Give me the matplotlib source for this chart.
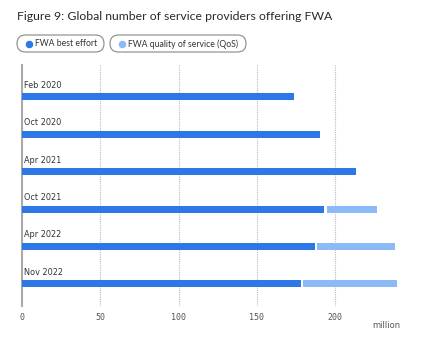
import matplotlib
matplotlib.use("Agg")
import matplotlib.pyplot as plt
from matplotlib.patches import FancyBboxPatch

# Datos (millones)
periods = ["Feb 2020", "Oct 2020", "Apr 2021", "Oct 2021", "Apr 2022", "Nov 2022"]
best_effort = [174, 190, 213, 193, 187, 178]
qos = [0, 0, 0, 32, 50, 60]
xticks = [0, 50, 100, 150, 200]

c_best = "#2d77e6"
c_qos = "#8cbaf7"
W, H = 445, 341


def px(x, y):
    # pixel (desde arriba-izquierda) -> coordenadas de figura
    return x / W, 1 - y / H


fig = plt.figure(figsize=(W / 100, H / 100), dpi=100)
fig.patch.set_facecolor("white")

# Ejes: izquierda 22px, arriba 65px, abajo 306px
l, t = px(22, 65)
_, b = px(0, 306)
r, _ = px(413.5, 0)
ax = fig.add_axes([l, b, r - l, t - b])
ax.set_xlim(0, 250)
ax.set_ylim(5.59, -0.85)

ypos = list(range(len(periods)))
ax.barh(ypos, best_effort, height=0.19, color=c_best, edgecolor="none", zorder=3)
ax.barh(ypos, qos, left=[v + 1.5 for v in best_effort], height=0.19,
        color=c_qos, edgecolor="none", zorder=3)

for y, lab in zip(ypos, periods):
    ax.text(1, y - 0.31, lab, fontsize=5.9, color="#333333",
            family="DejaVu Sans", ha="left", va="center")

for s in ["top", "right", "bottom"]:
    ax.spines[s].set_visible(False)
ax.spines["left"].set_color("#aaaaaa")
ax.spines["left"].set_linewidth(1.5)
ax.set_yticks([])
ax.set_xticks(xticks)
ax.set_xticklabels([str(v) for v in xticks], family="DejaVu Sans Mono",
                   fontsize=6, color="#555555")
ax.tick_params(axis="x", length=0, pad=5)
for v in xticks[1:]:
    ax.axvline(v, color="#bbbbbb", linewidth=0.8, linestyle=(0, (1, 1)), zorder=1)

fig.text(*px(386, 325), "million", fontsize=6, color="#555555",
         family="DejaVu Sans", ha="center", va="center")

# Título
fig.text(*px(17, 17), "Figure 9: Global number of service providers offering FWA",
         fontsize=8.8, color="#2a2a2a", family="Lato", ha="left", va="center")

# Capa superpuesta en píxeles para la leyenda
lay = fig.add_axes([0, 0, 1, 1], zorder=5)
lay.set_xlim(0, W)
lay.set_ylim(H, 0)
lay.axis("off")


def pill(x0, x1, label, color):
    y0, y1 = 35, 52
    h = y1 - y0
    box = FancyBboxPatch((x0 + h / 2, y0 + h / 2), (x1 - x0) - h, 0,
                         boxstyle="round,pad=%.2f" % (h / 2),
                         facecolor="white", edgecolor="#888888", linewidth=0.8)
    lay.add_patch(box)
    lay.plot([x0 + 12], [43.5], marker="o", markersize=4.4, color=color)
    lay.text(x0 + 18, 43.8, label, fontsize=6.2, color="#333333",
             family="Lato", ha="left", va="center")


pill(17, 104, "FWA best effort", c_best)
pill(110, 246, "FWA quality of service (QoS)", c_qos)

fig.savefig("out.png", dpi=100, facecolor="white")
